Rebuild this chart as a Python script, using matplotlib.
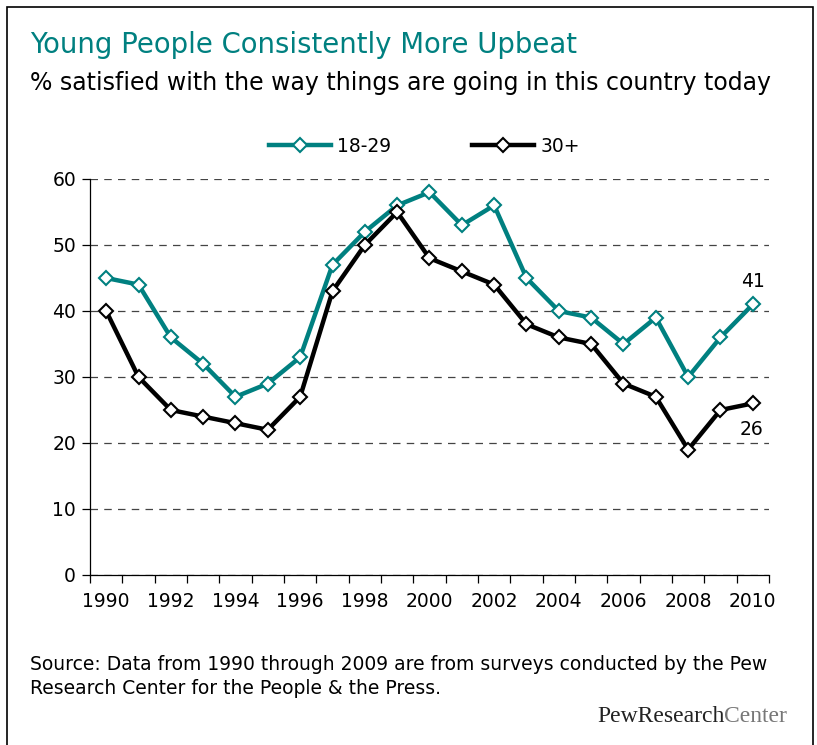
import matplotlib
matplotlib.use("agg")
from matplotlib import pyplot as plt
from matplotlib.patches import Rectangle
import numpy as np

years = list(range(1990, 2011))
young = [45, 44, 36, 32, 27, 29, 33, 47, 52, 56, 58, 53, 56, 45, 40, 39, 35, 39, 30, 36, 41]
older = [40, 30, 25, 24, 23, 22, 27, 43, 50, 55, 48, 46, 44, 38, 36, 35, 29, 27, 19, 25, 26]
tick_labels = [str(y) for y in years[::2]]

TEAL = '#008080'
W, H = 817, 745

plt.rcParams['font.family'] = ['DejaVu Sans']

fig = plt.figure(figsize=(W / 100, H / 100), dpi=100)
fig.patches.append(Rectangle((7 / W, -0.05), (813 - 7) / W, 1.05 - 7 / H,
                             transform=fig.transFigure, fill=False,
                             edgecolor='black', linewidth=1.2))

ax = fig.add_axes([90 / W, (H - 575) / H, (769 - 90) / W, (575 - 179) / H])

x = np.arange(len(years))
ax.plot(x, young, color=TEAL, lw=3.2, marker='D', ms=7.5, mfc='white',
        mec=TEAL, mew=1.5, zorder=3, clip_on=False, label='18-29')
ax.plot(x, older, color='black', lw=3.2, marker='D', ms=7.5, mfc='white',
        mec='black', mew=1.5, zorder=3, clip_on=False, label='30+')

ax.set_xlim(-0.5, len(years) - 0.5)
ax.set_ylim(0, 60)
ax.set_yticks(range(0, 61, 10))
ax.yaxis.grid(True, linestyle=(0, (6, 5)), color='#444444', linewidth=0.9)
ax.set_axisbelow(True)

ax.set_xticks(x[::2])
ax.set_xticklabels(tick_labels)
ax.set_xticks(np.arange(-0.5, len(years), 1), minor=True)
ax.tick_params(axis='x', which='major', length=0, pad=12, labelsize=13.5)
ax.tick_params(axis='x', which='minor', length=6, width=0.9, direction='out')
ax.tick_params(axis='y', length=6, width=0.9, direction='out', labelsize=13.5, pad=4)

for s in ['top', 'right']:
    ax.spines[s].set_visible(False)
ax.spines['left'].set_linewidth(0.9)
ax.spines['bottom'].set_linewidth(0.9)

# end-of-line value labels
ax.annotate(str(young[-1]), (x[-1], young[-1]), xytext=(0, 10),
            textcoords='offset points', ha='center', va='bottom', fontsize=13.5)
ax.annotate(str(older[-1]), (x[-1], older[-1]), xytext=(-1, -12),
            textcoords='offset points', ha='center', va='top', fontsize=13.5)

leg = fig.legend(loc='center', bbox_to_anchor=(424.5 / W, 1 - 146 / H), ncol=2,
                 frameon=False, fontsize=13.5, handlelength=3.3,
                 columnspacing=4.3, handletextpad=0.35)

fig.text(30 / W, 1 - 45 / H, 'Young People Consistently More Upbeat',
         color=TEAL, fontsize=19.8, va='center', ha='left')
fig.text(30 / W, 1 - 83 / H, '% satisfied with the way things are going in this country today',
         color='black', fontsize=17, va='center', ha='left')

fig.text(30 / W, 1 - 665 / H,
         'Source: Data from 1990 through 2009 are from surveys conducted by the Pew',
         fontsize=13.5, va='center', ha='left')
fig.text(30 / W, 1 - 689 / H, 'Research Center for the People & the Press.',
         fontsize=13.5, va='center', ha='left')

t1 = fig.text(597 / W, 1 - 716 / H, 'PewResearch', family='Liberation Serif',
              fontsize=17, color='#222222', va='center', ha='left')
fig.canvas.draw()
bb = t1.get_window_extent()
fig.text(bb.x1 / W, 1 - 716 / H, 'Center', family='Liberation Serif',
         fontsize=17, color='#777777', va='center', ha='left')

fig.savefig('out.png', dpi=100)
